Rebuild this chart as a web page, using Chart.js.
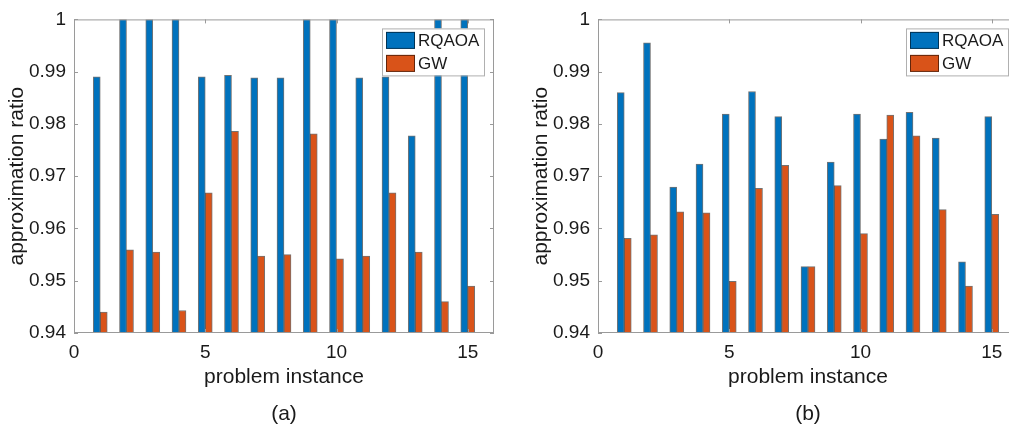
<!DOCTYPE html>
<html lang="en">
<head>
    <meta charset="UTF-8">
    <title>RQAOA vs GW approximation ratio</title>
    <style>
        * { margin: 0; padding: 0; box-sizing: border-box; }
        body { width: 1009px; height: 437px; overflow: hidden; background: white; font-family: "Liberation Sans", Arial, sans-serif; position: relative; }
        .panel { position: absolute; top: 0; width: 495px; height: 437px; }
        #panelA { left: 0; }
        #panelB { left: 524px; }
        .caption { position: absolute; top: 400px; width: 80px; margin-left: -40px; text-align: center; font-size: 21px; color: #1a1a1a; line-height: 26px; }
    </style>
    <script src="https://cdn.jsdelivr.net/npm/chart.js"></script>
</head>
<body>
    <div class="panel" id="panelA"><canvas id="chartA"></canvas></div>
    <div class="panel" id="panelB"><canvas id="chartB"></canvas></div>
    <div class="caption" style="left: 284px;">(a)</div>
    <div class="caption" style="left: 808px;">(b)</div>
    <script>
        // problem instances 1..15
        const instances = [1, 2, 3, 4, 5, 6, 7, 8, 9, 10, 11, 12, 13, 14, 15];

        // panel (a)
        const rqaoaA = [0.9890, 1.0, 1.0, 1.0, 0.9890, 0.9893, 0.9888, 0.9888, 1.0, 1.0, 0.9888, 0.9890, 0.9777, 1.0, 1.0];
        const gwA = [0.9440, 0.9559, 0.9555, 0.9443, 0.9668, 0.9786, 0.9547, 0.9550, 0.9781, 0.9542, 0.9547, 0.9668, 0.9555, 0.9460, 0.9490];

        // panel (b)
        const rqaoaB = [0.9860, 0.9955, 0.9679, 0.9723, 0.9819, 0.9862, 0.9814, 0.9527, 0.9727, 0.9819, 0.9771, 0.9822, 0.9773, 0.9536, 0.9814];
        const gwB = [0.9581, 0.9588, 0.9632, 0.9630, 0.9499, 0.9677, 0.9721, 0.9527, 0.9682, 0.9590, 0.9817, 0.9777, 0.9636, 0.9490, 0.9627];

        const yMin = 0.94, yMax = 1.0, yStep = 0.01;
        const xMin = 0, xMax = 16, xStep = 5;

        const BLUE = '#0072BD';
        const ORANGE = '#D95319';
        const TEXT = '#1a1a1a';
        const FRAME = '#9a9a9a';

        Chart.defaults.font.family = '"Liberation Sans", Arial, sans-serif';
        Chart.defaults.color = TEXT;

        // MATLAB-like box, inward ticks and legend inside the axes
        const matlabBox = {
            id: 'matlabBox',
            afterDraw(chart) {
                const ctx = chart.ctx;
                const a = chart.chartArea;
                const xs = chart.scales.x, ys = chart.scales.y;
                ctx.save();
                ctx.strokeStyle = FRAME;
                ctx.lineWidth = 1;
                ctx.strokeRect(a.left + 0.5, a.top + 0.5, a.right - a.left - 1, a.bottom - a.top - 1);
                ctx.beginPath();
                xs.ticks.forEach(t => {
                    const px = Math.round(xs.getPixelForValue(t.value)) + 0.5;
                    ctx.moveTo(px, a.bottom); ctx.lineTo(px, a.bottom - 4);
                    ctx.moveTo(px, a.top); ctx.lineTo(px, a.top + 4);
                });
                ys.ticks.forEach(t => {
                    const py = Math.round(ys.getPixelForValue(t.value)) + 0.5;
                    ctx.moveTo(a.left, py); ctx.lineTo(a.left + 4, py);
                    ctx.moveTo(a.right, py); ctx.lineTo(a.right - 4, py);
                });
                ctx.stroke();

                // legend
                const bw = 102, bh = 47;
                const bx = a.right - 10 - bw, by = a.top + 9;
                ctx.fillStyle = 'white';
                ctx.fillRect(bx, by, bw, bh);
                ctx.strokeStyle = '#b0b0b0';
                ctx.strokeRect(bx + 0.5, by + 0.5, bw, bh);
                ctx.font = '17px "Liberation Sans", Arial, sans-serif';
                ctx.textBaseline = 'middle';
                chart.data.datasets.forEach((ds, i) => {
                    const sy = by + 3.5 + i * 23;
                    ctx.fillStyle = ds.backgroundColor;
                    ctx.fillRect(bx + 4, sy, 29, 17);
                    ctx.strokeStyle = 'rgba(0,0,0,0.55)';
                    ctx.strokeRect(bx + 4.5, sy + 0.5, 28, 16);
                    ctx.fillStyle = TEXT;
                    ctx.fillText(ds.label, bx + 36, sy + 9);
                });
                ctx.restore();
            }
        };

        function makeChart(id, rqaoa, gw) {
            const ctx = document.getElementById(id).getContext('2d');
            return new Chart(ctx, {
                type: 'bar',
                data: {
                    datasets: [
                        {
                            label: 'RQAOA',
                            data: instances.map((x, i) => ({ x: x, y: rqaoa[i] })),
                            backgroundColor: BLUE,
                            borderColor: 'rgba(0,0,0,0.55)',
                            borderWidth: 1,
                            barThickness: 7
                        },
                        {
                            label: 'GW',
                            data: instances.map((x, i) => ({ x: x, y: gw[i] })),
                            backgroundColor: ORANGE,
                            borderColor: 'rgba(0,0,0,0.55)',
                            borderWidth: 1,
                            barThickness: 7
                        }
                    ]
                },
                options: {
                    responsive: true,
                    maintainAspectRatio: false,
                    animation: false,
                    layout: { padding: { left: 0, right: 1, top: 12, bottom: 0 } },
                    plugins: { legend: { display: false }, tooltip: { enabled: false } },
                    scales: {
                        x: {
                            type: 'linear',
                            offset: false,
                            min: xMin,
                            max: xMax,
                            grid: { display: false, drawTicks: false },
                            border: { display: false },
                            ticks: { stepSize: xStep, includeBounds: false, padding: 8, maxRotation: 0, font: { size: 19 } },
                            title: { display: true, text: 'problem instance', font: { size: 21 }, padding: { bottom: 47, top: 0 } },
                            afterFit(scale) { scale.height = 104; }
                        },
                        y: {
                            min: yMin,
                            max: yMax,
                            beginAtZero: false,
                            grid: { display: false, drawTicks: false },
                            border: { display: false },
                            ticks: {
                                stepSize: yStep,
                                includeBounds: false,
                                padding: 8,
                                font: { size: 19 },
                                callback: v => Math.abs(v - 1) < 1e-9 ? '1' : v.toFixed(2)
                            },
                            title: { display: true, text: 'approximation ratio', font: { size: 21 }, padding: { top: 5, bottom: 0 } },
                            afterFit(scale) { scale.width = 74; }
                        }
                    }
                },
                plugins: [matlabBox]
            });
        }

        makeChart('chartA', rqaoaA, gwA);
        makeChart('chartB', rqaoaB, gwB);
    </script>
</body>
</html>
